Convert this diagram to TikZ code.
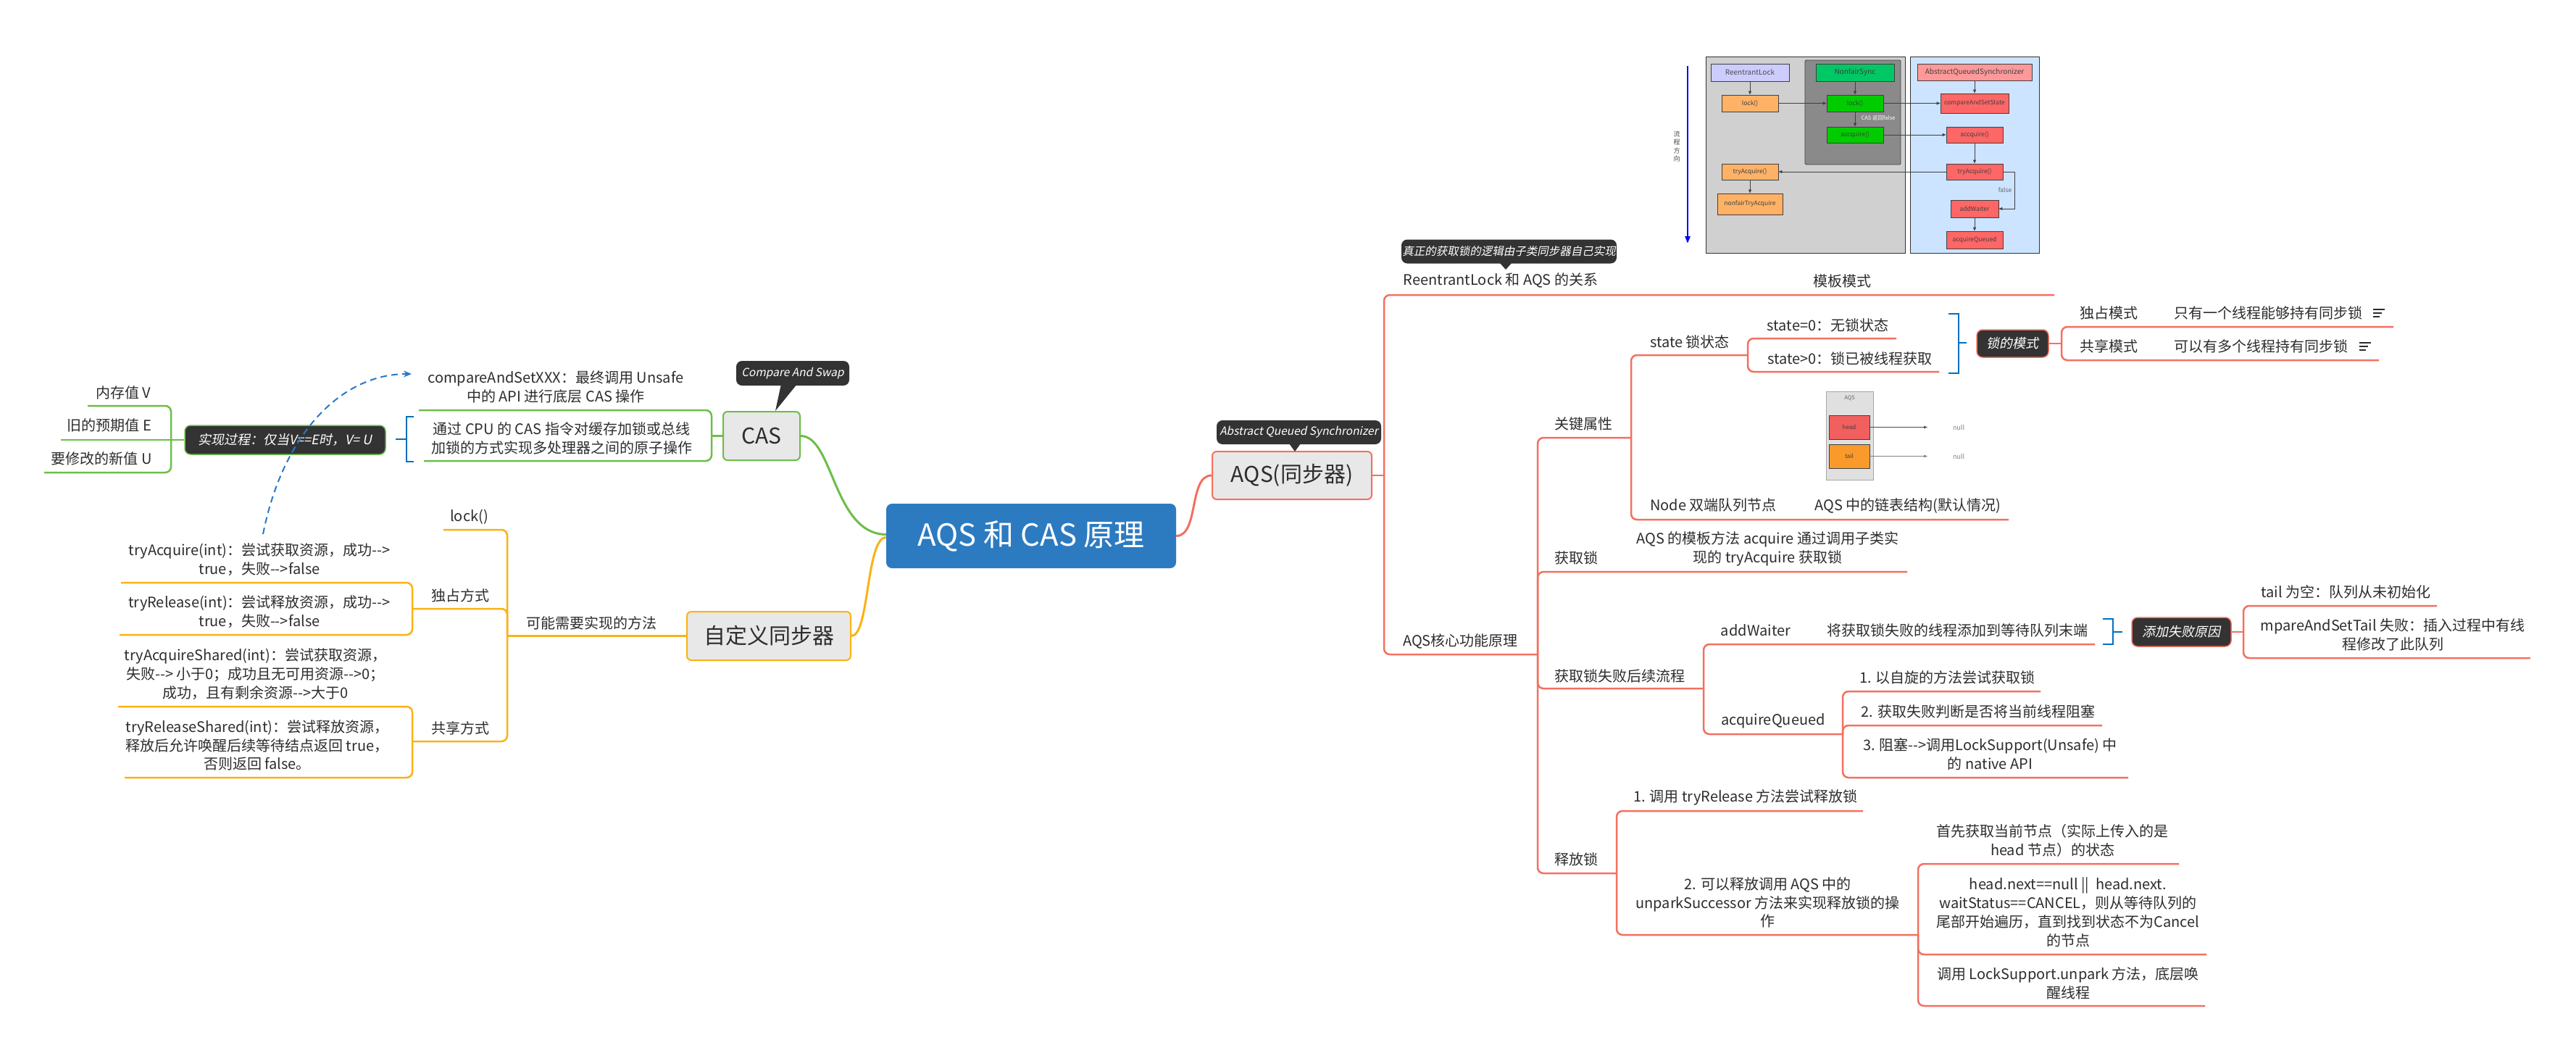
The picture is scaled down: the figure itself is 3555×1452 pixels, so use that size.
\documentclass[tikz,border=0pt]{standalone}
\usepackage{fontspec}
\newfontfamily\mf{Noto Sans CJK SC}
\newfontfamily\tipfont[FakeSlant=0.2]{Noto Sans CJK SC}
\usetikzlibrary{arrows.meta}
\definecolor{lineRed}{RGB}{243,112,96}
\definecolor{lineGreen}{RGB}{108,190,72}
\definecolor{lineOrange}{RGB}{250,178,20}
\definecolor{bluebr}{RGB}{0,112,192}
\definecolor{dashblue}{RGB}{40,120,200}
\definecolor{rootblue}{RGB}{44,123,193}
\definecolor{nodegray}{RGB}{232,232,232}
\definecolor{tipdark}{RGB}{51,51,51}
\definecolor{textc}{RGB}{45,45,45}
\definecolor{diagGray}{RGB}{208,208,208}
\definecolor{diagBlue}{RGB}{204,228,255}
\definecolor{diagDark}{RGB}{138,138,138}
\definecolor{cRL}{RGB}{204,204,255}
\definecolor{cOr}{RGB}{255,178,102}
\definecolor{cNS}{RGB}{0,200,100}
\definecolor{cGr}{RGB}{0,204,0}
\definecolor{cAQ}{RGB}{255,153,153}
\definecolor{cRd}{RGB}{255,102,102}
\definecolor{headc}{RGB}{242,95,95}
\definecolor{tailc}{RGB}{249,154,42}
\tikzset{
  txt/.style={inner sep=0pt, align=center, text=textc, font=\mf\fontsize{20}{25.8}\selectfont},
  mainnode/.style={draw, line width=2pt, fill=nodegray, rounded corners=6pt, inner sep=0pt, text=textc, font=\mf\fontsize{30}{36}\selectfont},
  tipnode/.style={fill=tipdark, rounded corners=8pt, inner sep=0pt, text=white, font=\tipfont\fontsize{15.5}{20}\selectfont},
  darknode/.style={fill=tipdark, draw, line width=1.5pt, rounded corners=8pt, inner sep=0pt, text=white, font=\tipfont\fontsize{18}{22}\selectfont},
  redl/.style={draw=lineRed, line width=2.5pt, rounded corners=8pt},
  grnl/.style={draw=lineGreen, line width=2.5pt, rounded corners=8pt},
  orgl/.style={draw=lineOrange, line width=2.5pt, rounded corners=8pt},
  bracket/.style={draw=bluebr, line width=2.5pt},
  fbox/.style={draw=black!75, line width=0.8pt, inner sep=0pt, text=black!75, font=\mf\fontsize{8.5}{10}\selectfont},
  farr/.style={draw=black!75, line width=0.9pt, -{Triangle[length=5pt,width=4pt]}},
  noteic/.style={draw=textc, line width=1.6pt},
}
\begin{document}
\begin{tikzpicture}[x=1pt,y=-1pt]
\useasboundingbox[fill=white] (0,0) rectangle (3555,1452);

% ---------- main nodes ----------
\node[fill=rootblue, rounded corners=8pt, minimum width=400pt, minimum height=89pt, inner sep=0pt, text=white, font=\mf\fontsize{42}{48}\selectfont] (root) at (1423,739.5) {AQS 和 CAS 原理};
\node[mainnode, draw=lineRed, minimum width=220pt, minimum height=66pt] (aqs) at (1783,656) {AQS(同步器)};
\node[mainnode, draw=lineGreen, minimum width=106pt, minimum height=67pt] (cas) at (1051,601.5) {CAS};
\node[mainnode, draw=lineOrange, minimum width=226pt, minimum height=67pt] (custom) at (1061,877.5) {自定义同步器};

% tooltips
\node[tipnode, minimum width=227pt, minimum height=33pt] (aqstip) at (1792.5,596.5) {Abstract Queued Synchronizer};
\fill[tipdark] (1779,612) -- (1795,612) -- (1787,623) -- cycle;
\node[tipnode, minimum width=156pt, minimum height=34pt] (castip) at (1094,515) {Compare And Swap};
\fill[tipdark] (1078,530) -- (1100,530) -- (1070,567) -- cycle;
\node[tipnode, minimum width=297pt, minimum height=33pt] (reltip) at (2082.5,347) {真正的获取锁的逻辑由子类同步器自己实现};
\fill[tipdark] (2069,362) -- (2087,362) -- (2078,372) -- cycle;

% root connectors
\draw[line width=3pt, lineRed] (root.east) .. controls (1655,739.5) and (1640,656) .. (aqs.west);
\draw[line width=3pt, lineGreen] (cas.east) .. controls (1150,601.5) and (1150,737) .. ([yshift=2pt]root.west);
\draw[line width=3pt, lineOrange] (custom.east) .. controls (1200,877.5) and (1195,742) .. ([yshift=-2pt]root.west);

% ---------- CAS subtree ----------
\node[txt] (cas1) at (767,534) {compareAndSetXXX：最终调用 Unsafe\\中的 API 进行底层 CAS 操作};
\node[txt] (cas2) at (775,604.5) {通过 CPU 的 CAS 指令对缓存加锁或总线\\加锁的方式实现多处理器之间的原子操作};
\node[darknode, draw=lineGreen, minimum width=277pt, minimum height=40pt] (impl) at (393.5,607) {实现过程：仅当V==E时，V= U};
\node[txt] (v1) at (170,542) {内存值 V};
\node[txt] (v2) at (151,587) {旧的预期值 E};
\node[txt] (v3) at (140,633) {要修改的新值 U};
\coordinate (casJ) at (982,601.5);
\coordinate (cas1u) at (578,566);
\coordinate (cas2u) at (585,636);
\coordinate (implJ) at (236,607);
\coordinate (v1u) at (121,560);
\coordinate (v2u) at (84,607);
\coordinate (v3u) at (61,652);
\draw[grnl] (cas.west) -- (casJ);
\draw[grnl] (casJ) |- (cas1u);
\draw[grnl] (casJ) |- (cas2u);
\draw[grnl] (impl.west) -- (implJ);
\draw[grnl] (implJ) |- (v1u);
\draw[grnl] (implJ) -- (v2u);
\draw[grnl] (implJ) |- (v3u);
\coordinate (bc1) at (571,575);
\coordinate (bc2) at (571,637);
\coordinate (bcm) at (546,606);
\draw[bracket] (bc1) -- (561,575) -- (561,637) -- (bc2);
\draw[bracket] (561,606) -- (bcm);

% ---------- custom subtree ----------
\node[txt] (methods) at (816.5,860) {可能需要实现的方法};
\node[txt] (lock) at (647.5,713) {lock()};
\node[txt] (excl) at (635,822) {独占方式};
\node[txt] (shared) at (635,1005) {共享方式};
\node[txt] (ta) at (358,772) {tryAcquire(int)：尝试获取资源，成功-->\\true，失败-->false};
\node[txt] (tr) at (358,844.5) {tryRelease(int)：尝试释放资源，成功-->\\true，失败-->false};
\node[txt] (tas) at (352.5,930) {tryAcquireShared(int)：尝试获取资源，\\失败--> 小于0；成功且无可用资源-->0；\\成功，且有剩余资源-->大于0};
\node[txt] (trs) at (355,1028.5) {tryReleaseShared(int)：尝试释放资源，\\释放后允许唤醒后续等待结点返回 true，\\否则返回 false。};
\coordinate (methodsu) at (700,877.5);
\coordinate (locku) at (612,731);
\coordinate (exclu) at (569,840);
\coordinate (sharedu) at (569,1023);
\coordinate (tau) at (167,804);
\coordinate (tru) at (165,876);
\coordinate (tasu) at (163,975);
\coordinate (trsu) at (172,1073);
\draw[orgl] (custom.west) -- (methodsu);
\draw[orgl] (methodsu) |- (locku);
\draw[orgl] (methodsu) |- (exclu);
\draw[orgl] (methodsu) |- (sharedu);
\draw[orgl] (exclu) |- (tau);
\draw[orgl] (exclu) |- (tru);
\draw[orgl] (sharedu) |- (tasu);
\draw[orgl] (sharedu) |- (trsu);

% dashed relation
\coordinate (dashS) at (363,737);
\coordinate (dashE) at (568,516);
\draw[dashblue, dashed, dash pattern=on 9pt off 6pt, line width=2pt, -{Stealth[length=11pt,width=9pt]}] (dashS) .. controls (390,600) and (470,516) .. (dashE);

% ---------- AQS subtree ----------
\node[txt] (rel) at (2071,387) {ReentrantLock 和 AQS 的关系};
\node[txt] (tpl) at (2542,388) {模板模式};
\node[txt] (core) at (2015.5,885) {AQS核心功能原理};
\node[txt] (key) at (2185.5,585) {关键属性};
\node[txt] (state) at (2332,472) {state 锁状态};
\node[txt] (s0) at (2522.5,449) {state=0：无锁状态};
\node[txt] (s1) at (2553,495) {state>0：锁已被线程获取};
\node[darknode, draw=lineRed, minimum width=99pt, minimum height=38pt] (mode) at (2777.5,474) {锁的模式};
\node[txt] (m1) at (2910,432) {独占模式};
\node[txt] (m1d) at (3130,432) {只有一个线程能够持有同步锁};
\node[txt] (m2) at (2910,478) {共享模式};
\node[txt] (m2d) at (3120,478) {可以有多个线程持有同步锁};
\node[txt] (nodeq) at (2364.5,697) {Node 双端队列节点};
\node[txt] (nodeD) at (2633,698) {AQS 中的链表结构(默认情况)};
\node[txt] (acq) at (2175.5,770) {获取锁};
\node[txt] (acqD) at (2439.5,757.5) {AQS 的模板方法 acquire 通过调用子类实\\现的 tryAcquire 获取锁};
\node[txt] (fail) at (2235.5,933) {获取锁失败后续流程};
\node[txt] (aw) at (2423,870) {addWaiter};
\node[txt] (awD) at (2701.5,870) {将获取锁失败的线程添加到等待队列末端};
\node[darknode, draw=lineRed, minimum width=137pt, minimum height=40pt] (why) at (3010.5,872) {添加失败原因};
\node[txt] (w1) at (3237.5,817) {tail 为空：队列从未初始化};
\node[txt] (w2) at (3302,876) {mpareAndSetTail 失败：插入过程中有线\\程修改了此队列};
\node[txt] (aq) at (2447,995) {acquireQueued};
\node[txt] (q1) at (2687.5,935) {1. 以自旋的方法尝试获取锁};
\node[txt] (q2) at (2730,982) {2. 获取失败判断是否将当前线程阻塞};
\node[txt] (q3) at (2746.5,1040.5) {3. 阻塞-->调用LockSupport(Unsafe) 中\\的 native API};
\node[txt] (relk) at (2175.5,1186) {释放锁};
\node[txt] (r1) at (2409,1100) {1. 调用 tryRelease 方法尝试释放锁};
\node[txt] (r2) at (2439.5,1245.5) {2. 可以释放调用 AQS 中的\\unparkSuccessor 方法来实现释放锁的操\\作};
\node[txt] (u1) at (2832.5,1160) {首先获取当前节点（实际上传入的是\\head 节点）的状态};
\node[txt] (u2) at (2854,1259) {head.next==null ||\ \ head.next.\\waitStatus==CANCEL，则从等待队列的\\尾部开始遍历，直到找到状态不为Cancel\\的节点};
\node[txt] (u3) at (2854,1357) {调用 LockSupport.unpark 方法，底层唤\\醒线程};

\coordinate (aqsJ) at (1910,656);
\coordinate (relu) at (2835,407);
\coordinate (coreu) at (2122,903);
\coordinate (keyu) at (2251,604);
\coordinate (stateu) at (2412,490);
\coordinate (s0u) at (2617,467);
\coordinate (s1u) at (2676,513);
\coordinate (modeJ) at (2845,474);
\coordinate (m1u) at (3303,451);
\coordinate (m2u) at (3283,497);
\coordinate (nodeu) at (2772,717);
\coordinate (acqu) at (2632,789);
\coordinate (failu) at (2351,950);
\coordinate (awu) at (2891,889);
\coordinate (whyJ) at (3096,872);
\coordinate (w1u) at (3363,836);
\coordinate (w2u) at (3492,908);
\coordinate (aqu) at (2543,1013);
\coordinate (q1u) at (2816,954);
\coordinate (q2u) at (2901,1001);
\coordinate (q3u) at (2937,1073);
\coordinate (relku) at (2231,1205);
\coordinate (r1u) at (2571,1119);
\coordinate (r2u) at (2647,1290);
\coordinate (u1u) at (3007,1192);
\coordinate (u2u) at (3045,1317);
\coordinate (u3u) at (3043,1388);

\draw[redl] (aqs.east) -- (aqsJ);
\draw[redl] (aqsJ) |- (relu);
\draw[redl] (aqsJ) |- (coreu);
\draw[redl] (coreu) |- (keyu);
\draw[redl] (coreu) |- (acqu);
\draw[redl] (coreu) |- (failu);
\draw[redl] (coreu) |- (relku);
\draw[redl] (keyu) |- (stateu);
\draw[redl] (keyu) |- (nodeu);
\draw[redl] (stateu) |- (s0u);
\draw[redl] (stateu) |- (s1u);
\draw[redl] (mode.east) -- (modeJ);
\draw[redl] (modeJ) |- (m1u);
\draw[redl] (modeJ) |- (m2u);
\draw[redl] (failu) |- (awu);
\draw[redl] (failu) |- (aqu);
\draw[redl] (why.east) -- (whyJ);
\draw[redl] (whyJ) |- (w1u);
\draw[redl] (whyJ) |- (w2u);
\draw[redl] (aqu) |- (q1u);
\draw[redl] (aqu) |- (q2u);
\draw[redl] (aqu) |- (q3u);
\draw[redl] (relku) |- (r1u);
\draw[redl] (relku) |- (r2u);
\draw[redl] (r2u) |- (u1u);
\draw[redl] (r2u) |- (u2u);
\draw[redl] (r2u) |- (u3u);

% brackets
\draw[bracket] (2689,433) -- (2703,433) -- (2703,515) -- (2689,515);
\draw[bracket] (2703,473) -- (2714,473);
\draw[bracket] (2902,854) -- (2916,854) -- (2916,889) -- (2902,889);
\draw[bracket] (2916,872) -- (2929,872);

% note icons
\draw[noteic] (3275,427) -- (3291,427) (3275,432) -- (3287,432) (3275,437) -- (3284,437);
\draw[noteic] (3256,473) -- (3272,473) (3256,478) -- (3268,478) (3256,483) -- (3265,483);

% ---------- mini AQS queue image ----------
\filldraw[fill=black!12, draw=black!35, line width=0.8pt] (2520,540) rectangle (2585,662);
\node[inner sep=0pt, font=\mf\fontsize{7.5}{8}\selectfont, text=black!60] (aqsl) at (2552.5,549) {AQS};
\node[fbox, fill=headc, minimum width=56pt, minimum height=33pt, font=\mf\fontsize{8}{9}\selectfont] (head) at (2552,589.5) {head};
\node[fbox, fill=tailc, minimum width=56pt, minimum height=33pt, font=\mf\fontsize{8}{9}\selectfont] (tail) at (2552,629.5) {tail};
\node[inner sep=0pt, font=\mf\fontsize{9}{10}\selectfont, text=black!50] (null1) at (2703,589.5) {null};
\node[inner sep=0pt, font=\mf\fontsize{9}{10}\selectfont, text=black!50] (null2) at (2703,629.5) {null};
\coordinate (h2) at (2660,589.5);
\coordinate (t2) at (2660,629.5);
\draw[black!70, line width=0.7pt, -{Triangle[length=5pt,width=3.5pt]}] (head.east) -- (h2);
\draw[black!50, line width=0.7pt, -{Triangle[length=5pt,width=3.5pt]}] (tail.east) -- (t2);

% ---------- flow image ----------
\filldraw[fill=diagGray, draw=black!80, line width=0.8pt] (2354,78) rectangle (2629,349);
\filldraw[fill=diagBlue, draw=black!80, line width=0.8pt] (2636,78) rectangle (2814,349);
\filldraw[fill=diagDark, draw=black!75, line width=0.8pt, rounded corners=1.5pt] (2491,83) rectangle (2623,227);
\coordinate (fa1) at (2329,91);
\coordinate (fa2) at (2329,336);
\draw[blue, line width=2.5pt, -{Triangle[length=10pt,width=7pt]}] (fa1) -- (fa2);
\node[inner sep=0pt, align=center, font=\mf\fontsize{9}{11.5}\selectfont, text=black!70] (flow) at (2314,202) {流\\程\\方\\向};

\node[fbox, fill=cRL, text=black!70, minimum width=108pt, minimum height=24pt, font=\mf\fontsize{10}{12}\selectfont] (rl) at (2415,100) {ReentrantLock};
\node[fbox, fill=cOr, minimum width=78pt, minimum height=23pt] (lk1) at (2415,142.5) {lock()};
\node[fbox, fill=cNS, minimum width=108pt, minimum height=24pt, font=\mf\fontsize{10}{12}\selectfont] (ns) at (2560,100) {NonfairSync};
\node[fbox, fill=cGr, minimum width=78pt, minimum height=23pt] (lk2) at (2560,142.5) {lock()};
\node[fbox, fill=cGr, minimum width=78pt, minimum height=22pt] (ac1) at (2560,186) {accquire()};
\node[fbox, fill=cAQ, minimum width=158pt, minimum height=23pt, font=\mf\fontsize{10}{12}\selectfont] (aqsb) at (2725,99.5) {AbstractQueuedSynchronizer};
\node[fbox, fill=cRd, minimum width=94pt, minimum height=27pt] (cass) at (2725,142.5) {compareAndSetState};
\node[fbox, fill=cRd, minimum width=78pt, minimum height=22pt] (ac2) at (2725,186) {accquire()};
\node[fbox, fill=cRd, minimum width=78pt, minimum height=22pt] (ta2) at (2725,237) {tryAcquire()};
\node[fbox, fill=cRd, minimum width=66pt, minimum height=24pt] (aw2) at (2725,288) {addWaiter};
\node[fbox, fill=cRd, minimum width=78pt, minimum height=24pt] (aqq) at (2725,331) {acquireQueued};
\node[fbox, fill=cOr, minimum width=78pt, minimum height=22pt] (ta1) at (2415,237) {tryAcquire()};
\node[fbox, fill=cOr, minimum width=90pt, minimum height=29pt] (nft) at (2415,281.5) {nonfairTryAcquire};
\node[inner sep=0pt, font=\mf\fontsize{7.5}{9}\selectfont, text=white] (casf) at (2592,163) {CAS 返回false};
\node[inner sep=0pt, font=\mf\fontsize{8.5}{10}\selectfont, text=black!60] (falsel) at (2767,262) {false};

\draw[farr] (rl.south) -- (lk1.north);
\draw[farr] (ns.south) -- (lk2.north);
\draw[farr] (lk1.east) -- (lk2.west);
\draw[farr] (lk2.east) -- (cass.west);
\draw[farr] (lk2.south) -- (ac1.north);
\draw[farr] (ac1.east) -- (ac2.west);
\draw[farr] (aqsb.south) -- (cass.north);
\draw[farr] (ac2.south) -- (ta2.north);
\draw[farr] (ta2.west) -- (ta1.east);
\draw[farr] (ta1.south) -- (nft.north);
\draw[farr] (ta2.east) -- (2780,237) |- (aw2.east);
\draw[farr] (aw2.south) -- (aqq.north);
\end{tikzpicture}
\end{document}
